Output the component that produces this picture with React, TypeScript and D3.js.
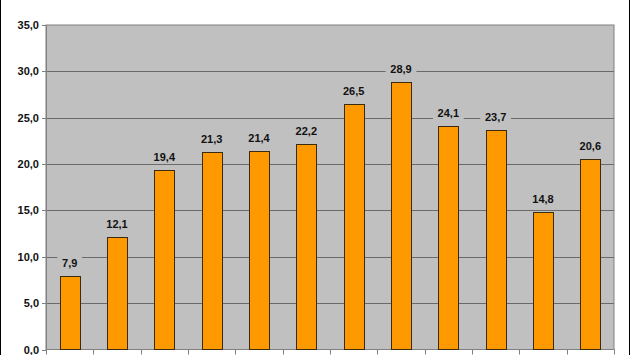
import React from "react";
import * as d3 from "d3";

const categories = ["1", "2", "3", "4", "5", "6", "7", "8", "9", "10", "11", "12"];
const values = [7.9, 12.1, 19.4, 21.3, 21.4, 22.2, 26.5, 28.9, 24.1, 23.7, 14.8, 20.6];
const yTicks = [0, 5, 10, 15, 20, 25, 30, 35];

const W = 630;
const H = 355;
const plot = { left: 46, top: 25, right: 614, bottom: 349.5 };
const font = "'Liberation Sans', Arial, sans-serif";
const fmt = (v: number) => v.toFixed(1).replace(".", ",");

export default function App() {
  const x = d3.scaleBand<string>().domain(categories).range([plot.left, plot.right]).paddingInner(0.575).paddingOuter(0.2875);
  const y = d3.scaleLinear().domain([0, 35]).range([plot.bottom, plot.top]);
  const boundaries = d3.range(categories.length + 1).map((i) => plot.left + ((plot.right - plot.left) / categories.length) * i);
  return (
    <svg width={W} height={H} style={{ position: "absolute", left: 0, top: 0, display: "block" }}>
      <rect x={0} y={0} width={W} height={H} fill="#fff" />
      <rect x={plot.left} y={plot.top} width={plot.right - plot.left} height={plot.bottom - plot.top} fill="#c0c0c0" stroke="#808080" strokeWidth={1} />
      {yTicks.map((t) => (
        <g key={t}>
          {t > 0 && t < 35 && (
            <line x1={plot.left} x2={plot.right} y1={Math.round(y(t)) + 0.5} y2={Math.round(y(t)) + 0.5} stroke="#6a6a6a" strokeWidth={1} />
          )}
          <line x1={plot.left - 4} x2={plot.left} y1={Math.round(y(t)) + 0.5} y2={Math.round(y(t)) + 0.5} stroke="#808080" />
          <text x={39} y={y(t) + 4} textAnchor="end" fontFamily={font} fontSize={11} fontWeight="bold" fill="#111">
            {fmt(t)}
          </text>
        </g>
      ))}
      <line x1={plot.left + 0.5} x2={plot.left + 0.5} y1={plot.top} y2={plot.bottom} stroke="#808080" />
      <line x1={plot.left} x2={plot.right} y1={plot.bottom} y2={plot.bottom} stroke="#808080" />
      {boundaries.map((b, i) => (
        <line key={i} x1={Math.round(b) + 0.5} x2={Math.round(b) + 0.5} y1={plot.bottom} y2={plot.bottom + 5} stroke="#808080" />
      ))}
      {categories.map((c, i) => {
        const bx = x(c)!;
        const bw = x.bandwidth();
        const top = y(values[i]);
        const cx = bx + bw / 2;
        const label = fmt(values[i]);
        const lw = label.length * 6.2 + 6;
        return (
          <g key={c}>
            <rect x={Math.round(bx) + 0.5} y={Math.round(top) + 0.5} width={Math.round(bw)} height={plot.bottom - Math.round(top) - 0.5} fill="#ff9900" stroke="#3a2a10" strokeWidth={1} />
            <rect x={cx - lw / 2} y={top - 21} width={lw} height={14} fill="#c0c0c0" />
            <text x={cx} y={top - 9} textAnchor="middle" fontFamily={font} fontSize={11} fontWeight="bold" fill="#111">
              {label}
            </text>
          </g>
        );
      })}
      <line x1={0.5} x2={0.5} y1={0} y2={H} stroke="#000" />
      <line x1={629.5} x2={629.5} y1={0} y2={H} stroke="#000" />
    </svg>
  );
}
